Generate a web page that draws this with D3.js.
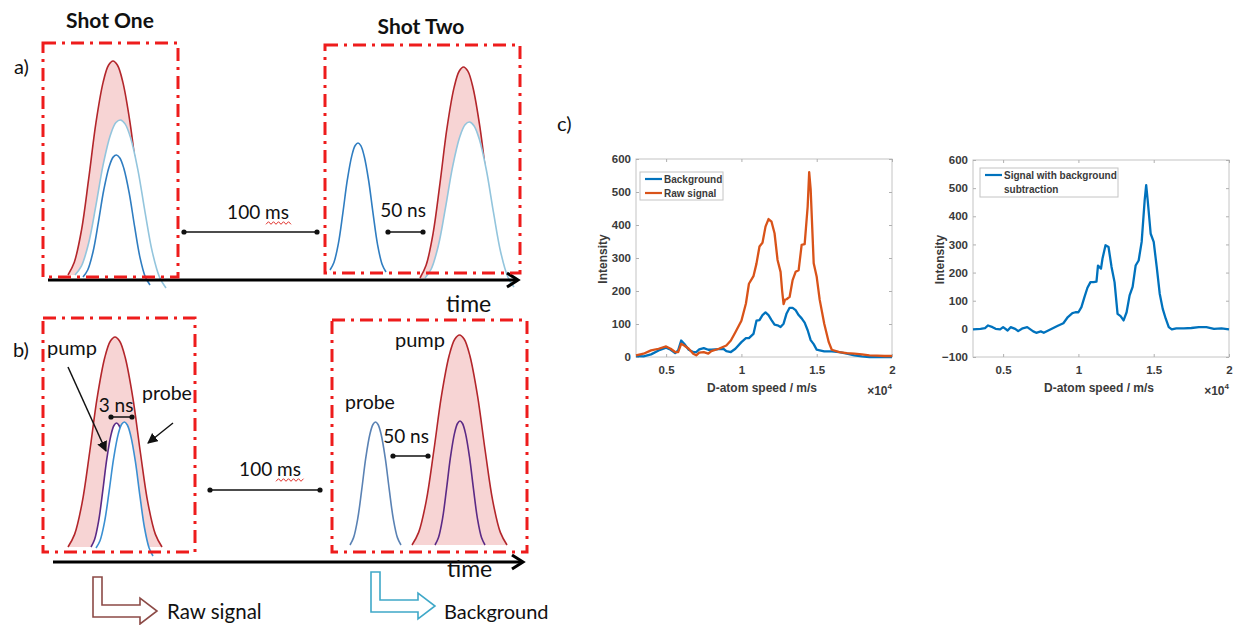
<!DOCTYPE html>
<html>
<head>
<meta charset="utf-8">
<script src="https://cdn.jsdelivr.net/npm/d3@7"></script>
<style>
  body { margin: 0; background: #fff; }
  .sketch text { font-family: Lato, "Open Sans", sans-serif; fill: #111; }
  .plot text { font-family: "Liberation Sans", Arial, sans-serif; font-weight: bold; fill: #3a3a3a; }
</style>
</head>
<body>
<div id="fig"></div>
<script>
const width = 1238;
const height = 625;

// ---- c) data, speed in units of 1e4 m/s ----
const rawSpeed = [0.3, 0.35, 0.4, 0.45, 0.5, 0.53, 0.56, 0.58, 0.6, 0.62, 0.65, 0.68, 0.7, 0.72, 0.75, 0.78, 0.8, 0.85, 0.9, 0.93, 0.96,
  1.0, 1.03, 1.05, 1.08, 1.1, 1.12, 1.14, 1.16, 1.18, 1.2, 1.22, 1.24, 1.26, 1.27, 1.28, 1.29, 1.3, 1.32, 1.34, 1.36, 1.38, 1.4, 1.42,
  1.44, 1.45, 1.46, 1.48, 1.5, 1.52, 1.55, 1.58, 1.6, 1.65, 1.7, 1.75, 1.8, 1.85, 1.9, 1.95, 2.0];
const rawSignal = [5, 10, 20, 25, 32, 25, 15, 15, 40, 35, 25, 10, 5, 13, 15, 10, 18, 25, 35, 50, 75,
  110, 162, 222, 245, 283, 335, 346, 395, 418, 410, 375, 294, 258, 203, 160, 174, 175, 182, 233, 258, 263, 340, 342,
  456, 560, 507, 284, 243, 173, 101, 45, 22, 15, 12, 10, 8, 5, 4, 3, 3];

const bgSpeed = [0.3, 0.35, 0.4, 0.45, 0.5, 0.53, 0.56, 0.58, 0.6, 0.62, 0.65, 0.68, 0.7, 0.72, 0.75, 0.78, 0.8, 0.85, 0.88, 0.9, 0.93, 0.96,
  1.0, 1.03, 1.05, 1.08, 1.1, 1.12, 1.14, 1.16, 1.18, 1.2, 1.22, 1.24, 1.26, 1.28, 1.3, 1.32, 1.34, 1.36, 1.38, 1.4, 1.42, 1.44, 1.46, 1.48,
  1.5, 1.52, 1.55, 1.6, 1.65, 1.7, 1.75, 1.8, 1.85, 1.9, 2.0];
const bgSignal = [3, 2, 8, 20, 28, 22, 12, 20, 50, 40, 22, 15, 15, 23, 27, 22, 22, 24, 25, 18, 15, 25,
  45, 57, 57, 70, 110, 112, 127, 135, 127, 112, 98, 96, 91, 101, 132, 149, 149, 142, 127, 117, 104, 81, 51, 39,
  22, 20, 17, 17, 15, 10, 5, 2, 0, 0, 0];

const subSpeed = [0.3, 0.35, 0.38, 0.4, 0.43, 0.45, 0.48, 0.5, 0.53, 0.55, 0.58, 0.6, 0.63, 0.66, 0.7, 0.72, 0.75, 0.77, 0.8, 0.83, 0.86,
  0.9, 0.93, 0.96, 0.98, 1.0, 1.02, 1.04, 1.06, 1.08, 1.1, 1.12, 1.13, 1.15, 1.16, 1.18, 1.2, 1.22, 1.24, 1.26, 1.28, 1.3, 1.32, 1.34,
  1.36, 1.38, 1.4, 1.42, 1.44, 1.45, 1.46, 1.48, 1.5, 1.52, 1.54, 1.56, 1.58, 1.6, 1.62, 1.65, 1.7, 1.75, 1.8, 1.85, 1.9, 1.95, 2.0];
const subSignal = [-2, 0, 3, 12, 6, 0, -2, 6, -6, 6, 0, -8, 2, 6, -9, -14, -9, -14, -6, 2, 10,
  20, 42, 56, 59, 59, 77, 113, 146, 166, 166, 168, 225, 214, 250, 297, 291, 220, 166, 53, 45, 30, 59, 119,
  149, 225, 243, 309, 457, 511, 457, 338, 309, 220, 125, 71, 36, 6, -2, 2, 2, 3, 6, 6, 0, 2, -2];

const xTicks = [0.5, 1, 1.5, 2];
const yTicksLeft = [0, 100, 200, 300, 400, 500, 600];
const yTicksRight = [-100, 0, 100, 200, 300, 400, 500, 600];
const legendLeft = ["Background", "Raw signal"];
const legendRight = ["Signal with background", "subtraction"];

// normalised bell used for every laser pulse in the sketch
const pulseT = [0, 0.07, 0.15, 0.23, 0.31, 0.39, 0.45, 0.5, 0.55, 0.61, 0.69, 0.77, 0.85, 0.93, 1];
const pulseH = [0, 0.06, 0.21, 0.45, 0.71, 0.9, 0.98, 1, 0.98, 0.9, 0.71, 0.45, 0.21, 0.06, 0];

const svg = d3.select("#fig").append("svg")
    .attr("width", width)
    .attr("height", height);

// ================= a) and b) timing sketch =================
const red = "#b3262b", pink = "#f7d4d4", lblue = "#93c5dd", blue = "#2f7dc1", purple = "#5b2a86", slate = "#5a82b4";
const boxRed = "#ee1c1c";

const pulses = [
  // a) shot one
  { x0: 68, x1: 158, top: 61, bl: 275, br: 275, stroke: red, fill: pink },
  { x0: 75, x1: 166, top: 120, bl: 275, br: 288, stroke: lblue, fill: "#fff" },
  { x0: 83, x1: 150, top: 155, bl: 277, br: 285, stroke: blue, fill: "none" },
  // a) shot two
  { x0: 330, x1: 386, top: 143, bl: 270, br: 272, stroke: blue, fill: "none" },
  { x0: 420, x1: 507, top: 67, bl: 278, br: 277, stroke: red, fill: pink },
  { x0: 425, x1: 514, top: 122, bl: 278, br: 287, stroke: lblue, fill: "#fff" },
  // b) shot one
  { x0: 68, x1: 162, top: 337, bl: 547, br: 547, stroke: red, fill: pink },
  { x0: 91, x1: 142, top: 423, bl: 547, br: 547, stroke: purple, fill: "#fff" },
  { x0: 96, x1: 153, top: 422, bl: 548, br: 556, stroke: "#3a8fd2", fill: "#fff" },
  // b) shot two
  { x0: 350, x1: 401, top: 422, bl: 545, br: 545, stroke: slate, fill: "none" },
  { x0: 412, x1: 507, top: 335, bl: 545, br: 545, stroke: red, fill: pink },
  { x0: 435, x1: 485, top: 421, bl: 545, br: 545, stroke: purple, fill: "none" }
];

const sketch = svg.append("g").attr("class", "sketch");

pulses.forEach(p => {
  const px = d3.scaleLinear().domain([0, 1]).range([p.x0, p.x1]);
  const base = d3.scaleLinear().domain([0, 1]).range([p.bl, p.br]);
  const mid = (p.bl + p.br) / 2;
  const line = d3.line()
      .x((t, i) => px(t))
      .y((t, i) => base(t) - pulseH[i] * (mid - p.top))
      .curve(d3.curveCatmullRom);
  sketch.append("path")
      .attr("d", line(pulseT))
      .attr("fill", p.fill)
      .attr("stroke", p.stroke)
      .attr("stroke-width", 1.6);
});

// time axes
const timeAxes = [{ x0: 48, x1: 518, y: 280 }, { x0: 53, x1: 523, y: 562 }];
timeAxes.forEach(a => {
  sketch.append("line").attr("x1", a.x0).attr("x2", a.x1 - 2).attr("y1", a.y).attr("y2", a.y)
      .attr("stroke", "#000").attr("stroke-width", 3);
  sketch.append("path")
      .attr("d", `M${a.x1 - 11},${a.y - 7}L${a.x1},${a.y}L${a.x1 - 11},${a.y + 7}`)
      .attr("fill", "none").attr("stroke", "#000").attr("stroke-width", 3);
});

// dash-dot shot boxes
const boxes = [[43, 43, 178, 277], [325, 45, 520, 273], [43, 318, 195, 552], [332, 320, 527, 552]];
boxes.forEach(b => {
  sketch.append("rect")
      .attr("x", b[0]).attr("y", b[1]).attr("width", b[2] - b[0]).attr("height", b[3] - b[1])
      .attr("fill", "none").attr("stroke", boxRed).attr("stroke-width", 3)
      .attr("stroke-dasharray", "13,6,3,6");
});

// double-headed delay markers
const spans = [
  { x0: 184, x1: 317, y: 232 }, { x0: 388, x1: 423, y: 232 },
  { x0: 210, x1: 320, y: 490 }, { x0: 393, x1: 428, y: 456 },
  { x0: 111, x1: 132, y: 417 }
];
spans.forEach(s => {
  sketch.append("line").attr("x1", s.x0).attr("x2", s.x1).attr("y1", s.y).attr("y2", s.y)
      .attr("stroke", "#111").attr("stroke-width", 1.5);
  [s.x0, s.x1].forEach(x => sketch.append("circle").attr("cx", x).attr("cy", s.y).attr("r", 2.6).attr("fill", "#111"));
});

// pointer arrows for pump / probe
svg.append("defs").append("marker")
    .attr("id", "head").attr("viewBox", "0 0 10 10").attr("refX", 9).attr("refY", 5)
    .attr("markerWidth", 7).attr("markerHeight", 7).attr("orient", "auto")
  .append("path").attr("d", "M0,0L10,5L0,10z").attr("fill", "#111");
[[68, 367, 106, 451], [173, 423, 148, 443]].forEach(a => {
  sketch.append("line").attr("x1", a[0]).attr("y1", a[1]).attr("x2", a[2]).attr("y2", a[3])
      .attr("stroke", "#111").attr("stroke-width", 1.5).attr("marker-end", "url(#head)");
});

// red spell-check squiggles under "ms"
[[266, 293, 223], [276, 304, 480]].forEach(w => {
  const pts = d3.range(w[0], w[1] + 0.1, 2.5).map((x, i) => [x, w[2] + (i % 2 ? -1.3 : 1.3)]);
  sketch.append("path").attr("d", d3.line()(pts)).attr("fill", "none")
      .attr("stroke", "#e0302a").attr("stroke-width", 1);
});

// hollow L arrows
const lArrows = [
  { x: 93, y: 577, color: "#8c4a46" },
  { x: 371, y: 572, color: "#3fa8c8" }
];
lArrows.forEach(a => {
  const pts = [[0, 0], [9, 0], [9, 28], [47, 28], [47, 21], [64, 34], [47, 47], [47, 40], [0, 40]]
      .map(p => [a.x + p[0], a.y + p[1]]);
  sketch.append("path").attr("d", d3.line()(pts) + "Z")
      .attr("fill", "#fff").attr("stroke", a.color).attr("stroke-width", 1.6);
});

const labels = [
  { t: "Shot One", x: 110, y: 28, s: 21, w: "bold", a: "middle" },
  { t: "Shot Two", x: 421, y: 34, s: 21, w: "bold", a: "middle" },
  { t: "a)", x: 14, y: 74, s: 20, a: "start" },
  { t: "b)", x: 13, y: 357, s: 20, a: "start" },
  { t: "c)", x: 557, y: 131, s: 20, a: "start" },
  { t: "100 ms", x: 258, y: 219, s: 19, a: "middle" },
  { t: "100 ms", x: 270, y: 476, s: 19, a: "middle" },
  { t: "50 ns", x: 403, y: 217, s: 19, a: "middle" },
  { t: "50 ns", x: 406, y: 443, s: 19, a: "middle" },
  { t: "3 ns", x: 116, y: 412, s: 19, a: "middle" },
  { t: "pump", x: 47, y: 355, s: 20, a: "start" },
  { t: "probe", x: 142, y: 400, s: 19.5, a: "start" },
  { t: "probe", x: 345, y: 409, s: 19.5, a: "start" },
  { t: "pump", x: 395, y: 347, s: 20, a: "start" },
  { t: "time", x: 446, y: 312, s: 23, a: "start" },
  { t: "time", x: 447, y: 577, s: 23, a: "start" },
  { t: "Raw signal", x: 167, y: 619, s: 20.5, a: "start" },
  { t: "Background", x: 444, y: 619, s: 20, a: "start" }
];
labels.forEach(l => {
  sketch.append("text").attr("x", l.x).attr("y", l.y)
      .attr("text-anchor", l.a).attr("font-size", l.s)
      .attr("font-weight", l.w || "normal").text(l.t);
});

// ================= c) MATLAB style plots =================
function drawPlot(cfg) {
  const g = svg.append("g").attr("class", "plot");
  const x = d3.scaleLinear().domain([0.3, 2]).range([cfg.left, cfg.right]);
  const y = d3.scaleLinear().domain(cfg.yDomain).range([cfg.bottom, cfg.top]);

  g.append("rect").attr("x", cfg.left).attr("y", cfg.top)
      .attr("width", cfg.right - cfg.left).attr("height", cfg.bottom - cfg.top)
      .attr("fill", "#fff").attr("stroke", "#c4c4c4").attr("stroke-width", 1);

  const ax = [
    g.append("g").attr("transform", `translate(0,${cfg.bottom})`)
        .call(d3.axisBottom(x).tickValues(xTicks).tickFormat(d3.format("")).tickSize(-3).tickPadding(9)),
    g.append("g").attr("transform", `translate(${cfg.left},0)`)
        .call(d3.axisLeft(y).tickValues(cfg.yTicks).tickSize(-3).tickPadding(5)),
    g.append("g").attr("transform", `translate(0,${cfg.top})`)
        .call(d3.axisTop(x).tickValues(xTicks).tickSize(-3).tickFormat("")),
    g.append("g").attr("transform", `translate(${cfg.right},0)`)
        .call(d3.axisRight(y).tickValues(cfg.yTicks).tickSize(-3).tickFormat(""))
  ];
  ax.forEach(a => {
    a.select(".domain").remove();
    a.selectAll(".tick line").attr("stroke", "#b0b0b0");
    a.selectAll("text").attr("font-size", 11.5).attr("fill", "#3a3a3a").attr("font-family", null);
  });

  cfg.series.forEach(s => {
    const line = d3.line().x((d, i) => x(s.xs[i])).y(d => y(d));
    g.append("path").attr("d", line(s.ys))
        .attr("fill", "none").attr("stroke", s.color).attr("stroke-width", 2.3)
        .attr("stroke-linejoin", "round");
  });

  g.append("text").attr("transform", `translate(${cfg.left - 29},${(cfg.top + cfg.bottom) / 2 + 1}) rotate(-90)`)
      .attr("text-anchor", "middle").attr("font-size", 12).text("Intensity");
  g.append("text").attr("x", (cfg.left + cfg.right) / 2 - 2).attr("y", 392)
      .attr("text-anchor", "middle").attr("font-size", 12).text("D-atom speed / m/s");
  const mult = g.append("text").attr("x", cfg.right).attr("y", 395).attr("text-anchor", "end")
      .attr("font-size", 12).attr("font-weight", "normal");
  mult.append("tspan").text("\u00d710");
  mult.append("tspan").attr("font-size", 8).attr("dy", -6).text("4");

  // legend
  const lg = cfg.legend;
  g.append("rect").attr("x", lg.x).attr("y", lg.y).attr("width", lg.w).attr("height", lg.h)
      .attr("fill", "#fff").attr("stroke", "#c4c4c4");
  lg.items.forEach((it, i) => {
    if (it.color) {
      g.append("line").attr("x1", lg.x + 5).attr("x2", lg.x + 22)
          .attr("y1", lg.y + 7 + i * 14).attr("y2", lg.y + 7 + i * 14)
          .attr("stroke", it.color).attr("stroke-width", 2.2);
    }
    g.append("text").attr("x", lg.x + 24).attr("y", lg.y + 10.5 + i * 14)
        .attr("font-size", 10).attr("fill", "#222").text(it.label);
  });
}

drawPlot({
  left: 636, right: 892, top: 159, bottom: 357,
  yDomain: [0, 600], yTicks: yTicksLeft,
  series: [
    { xs: bgSpeed, ys: bgSignal, color: "#0072bd" },
    { xs: rawSpeed, ys: rawSignal, color: "#d95319" }
  ],
  legend: { x: 640, y: 172, w: 83, h: 28, items: [
    { label: legendLeft[0], color: "#0072bd" }, { label: legendLeft[1], color: "#d95319" }] }
});

drawPlot({
  left: 973, right: 1229, top: 160, bottom: 357,
  yDomain: [-100, 600], yTicks: yTicksRight,
  series: [{ xs: subSpeed, ys: subSignal, color: "#0072bd" }],
  legend: { x: 980, y: 168, w: 138, h: 29, items: [
    { label: legendRight[0], color: "#0072bd" }, { label: legendRight[1] }] }
});
</script>
</body>
</html>
